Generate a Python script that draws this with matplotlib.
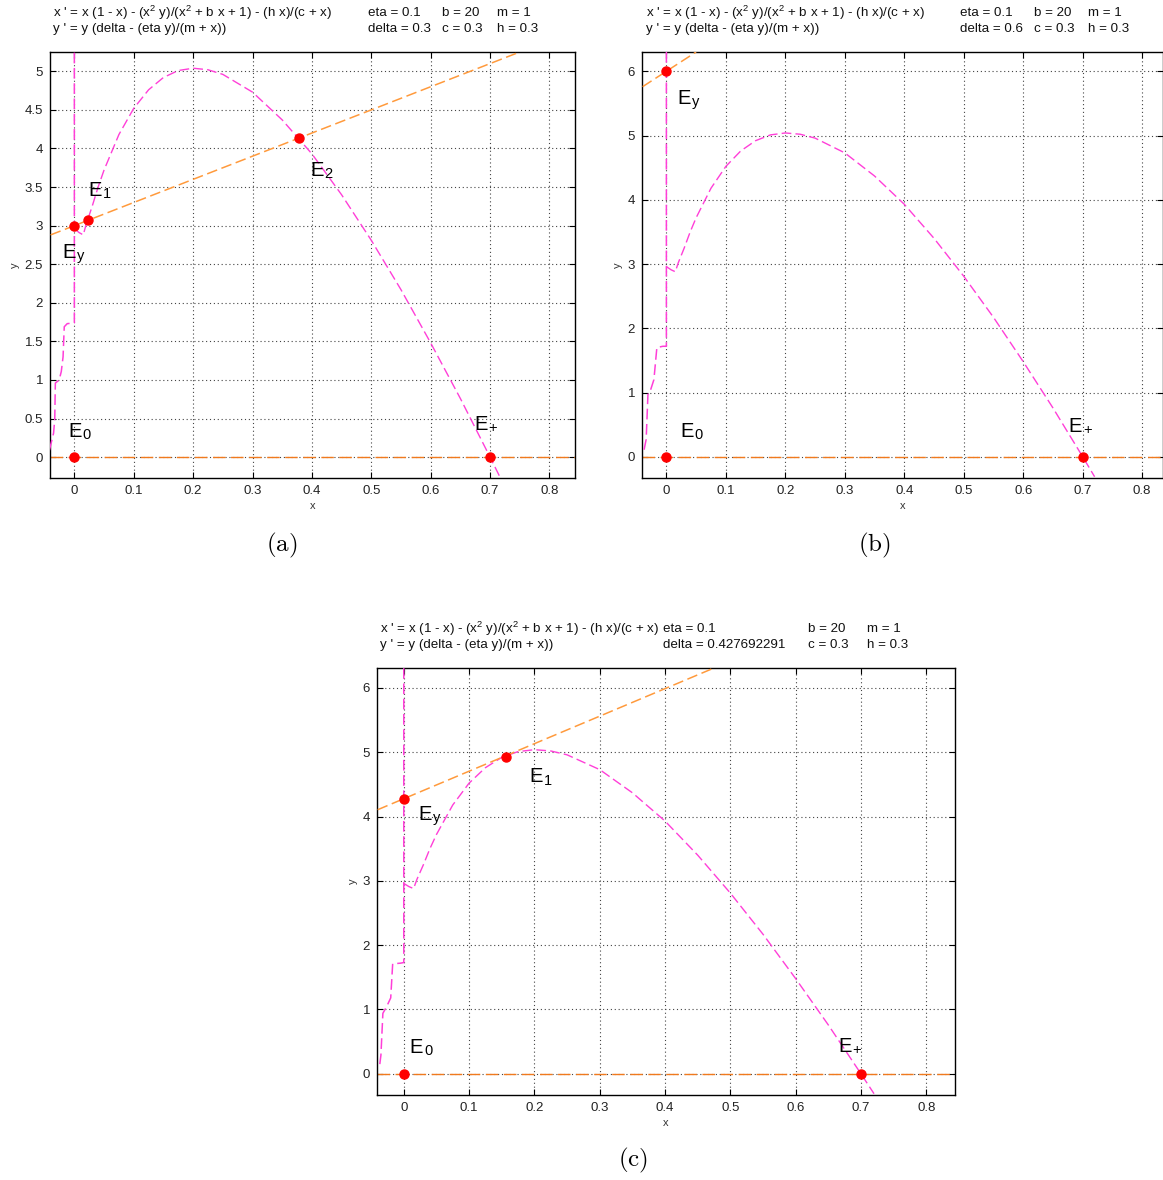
import matplotlib
matplotlib.use('Agg')
import matplotlib.pyplot as plt

plt.rcParams['font.family'] = ['Liberation Sans', 'DejaVu Sans']
plt.rcParams['mathtext.fontset'] = 'custom'
plt.rcParams['mathtext.rm'] = 'Liberation Sans'
plt.rcParams['mathtext.it'] = 'Liberation Sans'
plt.rcParams['mathtext.bf'] = 'Liberation Sans:bold'

# x-nullcline hump (same in all three panels)
hump_x = [0, 0.008, 0.015, 0.02, 0.03, 0.04, 0.05, 0.075, 0.1, 0.125, 0.15, 0.175,
          0.2, 0.225, 0.25, 0.3, 0.35, 0.4, 0.45, 0.5, 0.55, 0.6, 0.65, 0.7, 0.72]
hump_y = [2.96, 2.91, 2.88, 3.02, 3.25, 3.5, 3.72, 4.18, 4.52, 4.76, 4.92, 5.01,
          5.04, 5.02, 4.96, 4.73, 4.37, 3.93, 3.40, 2.81, 2.17, 1.48, 0.76, 0.0, -0.31]

# left piece + vertical branch at x = 0
left_x_a = [-0.042, -0.035, -0.033, -0.032, -0.0255, -0.022, -0.019, -0.017, -0.012, 0, 0]
left_y_a = [0.09, 0.31, 0.49, 0.96, 1.0, 1.11, 1.3, 1.69, 1.73, 1.74, 5.25]
left_x_b = [-0.0375, -0.034, -0.031, -0.028, -0.021, -0.016, -0.006, 0, 0]
left_y_b = [0.11, 0.27, 0.97, 1.0, 1.2, 1.7, 1.72, 1.72, 6.3]
left_x_c = [-0.0367, -0.035, -0.032, -0.026, -0.020, -0.017, -0.005, 0, 0]
left_y_c = [0.15, 0.29, 0.94, 1.05, 1.18, 1.71, 1.72, 1.73, 6.31]

# y-nullcline (straight line), end points
line_x_a = [-0.04, 0.75]
line_y_a = [2.88, 5.25]
line_x_b = [-0.04, 0.05]
line_y_b = [5.76, 6.3]
line_x_c = [-0.04, 0.475]
line_y_c = [4.106, 6.31]

# equilibria
eq_x_a = [0, 0.7, 0, 0.0225, 0.379]
eq_y_a = [0, 0, 3, 3.07, 4.13]
eq_x_b = [0, 0.7, 0]
eq_y_b = [0, 0, 6]
eq_x_c = [0, 0.7, 0, 0.157]
eq_y_c = [0, 0, 4.277, 4.93]

lab_a = [('0', -0.01, 0.26), ('+', 0.673, 0.35), ('y', -0.02, 2.58), ('1', 0.024, 3.39), ('2', 0.397, 3.64)]
lab_b = [('0', 0.023, 0.31), ('+', 0.676, 0.39), ('y', 0.018, 5.49)]
lab_c = [('0', 0.009, 0.33), ('+', 0.665, 0.34), ('y', 0.023, 3.95), ('1', 0.193, 4.53)]

deltas = ['0.3', '0.6', '0.427692291']

xticks = [0, 0.1, 0.2, 0.3, 0.4, 0.5, 0.6, 0.7, 0.8]
xtick_labels = ['0', '0.1', '0.2', '0.3', '0.4', '0.5', '0.6', '0.7', '0.8']
yticks_a = [0, 0.5, 1, 1.5, 2, 2.5, 3, 3.5, 4, 4.5, 5]
ytick_labels_a = ['0', '0.5', '1', '1.5', '2', '2.5', '3', '3.5', '4', '4.5', '5']
yticks_bc = [0, 1, 2, 3, 4, 5, 6]
ytick_labels_bc = ['0', '1', '2', '3', '4', '5', '6']

W, H = 1163, 1180
fig = plt.figure(figsize=(W / 100, H / 100), dpi=100)

MAG = '#ff3fd8'
ORA = '#ff9a3c'
ORA0 = '#f07a1e'


def px_axes(l, t, r, b):
    return fig.add_axes([l / W, 1 - b / H, (r - l) / W, (b - t) / H])


def draw_panel(ax, lx, ly, nx, ny, ex, ey, labs, xlim, ylim, yt, ytl):
    ax.plot(hump_x, hump_y, color=MAG, lw=1.0, dashes=(7, 3), zorder=3)
    ax.plot(lx, ly, color=MAG, lw=1.1, dashes=(7, 3), zorder=3)
    ax.plot(nx, ny, color=ORA, lw=1.1, dashes=(7, 3), zorder=3)
    ax.axhline(0, color=ORA0, lw=1.0, dashes=(9, 4), zorder=2)
    ax.plot(ex, ey, 'o', color='red', ms=6.5, zorder=5)
    for s, x, y in labs:
        ax.text(x, y, 'E', fontsize=14.5, ha='left', va='baseline')
        ax.annotate(s, xy=(x, y), xytext=(10.4, -1.5), textcoords='offset points',
                    fontsize=10.5, ha='left', va='baseline')
    ax.set_xlim(xlim)
    ax.set_ylim(ylim)
    ax.set_xticks(xticks)
    ax.set_xticklabels(xtick_labels)
    ax.set_yticks(yt)
    ax.set_yticklabels(ytl)
    ax.grid(True, color='#444444', lw=0.8, linestyle=(0, (1, 2.5)))
    ax.tick_params(direction='in', top=True, right=True, length=4, labelsize=9.5,
                   labelcolor='#222222', pad=5)
    ax.set_xlabel('x', fontsize=8, color='#333333', labelpad=3)
    ax.set_ylabel('y', fontsize=8, color='#333333', labelpad=3)
    for sp in ax.spines.values():
        sp.set_linewidth(1.0)


def header(x0, y0, xp, delta):
    fs = 9.6
    fig.text(x0 / W, 1 - y0 / H, "x ' = x (1 - x) - (x$^2$ y)/(x$^2$ + b x + 1) - (h x)/(c + x)",
             fontsize=fs, va='center', color='#111111')
    fig.text(x0 / W, 1 - (y0 + 16) / H, "y ' = y (delta - (eta y)/(m + x))",
             fontsize=fs, va='center', color='#111111')
    fig.text(xp[0] / W, 1 - y0 / H, 'eta = 0.1', fontsize=fs, va='center', color='#111111')
    fig.text(xp[1] / W, 1 - y0 / H, 'b = 20', fontsize=fs, va='center', color='#111111')
    fig.text(xp[2] / W, 1 - y0 / H, 'm = 1', fontsize=fs, va='center', color='#111111')
    fig.text(xp[0] / W, 1 - (y0 + 16) / H, 'delta = ' + delta, fontsize=fs, va='center', color='#111111')
    fig.text(xp[1] / W, 1 - (y0 + 16) / H, 'c = 0.3', fontsize=fs, va='center', color='#111111')
    fig.text(xp[2] / W, 1 - (y0 + 16) / H, 'h = 0.3', fontsize=fs, va='center', color='#111111')


# (a)
ax1 = px_axes(50, 52, 575, 478)
draw_panel(ax1, left_x_a, left_y_a, line_x_a, line_y_a, eq_x_a, eq_y_a, lab_a,
           (-0.041, 0.843), (-0.27, 5.25), yticks_a, ytick_labels_a)
header(53, 13, [368, 442, 497], deltas[0])
fig.text(282 / W, 1 - 545 / H, r'$\mathrm{(a)}$', math_fontfamily='cm', fontsize=18,
         ha='center', va='center')

# (b)
ax2 = px_axes(642, 52, 1163, 478)
draw_panel(ax2, left_x_b, left_y_b, line_x_b, line_y_b, eq_x_b, eq_y_b, lab_b,
           (-0.041, 0.835), (-0.33, 6.3), yticks_bc, ytick_labels_bc)
header(646, 13, [960, 1034, 1088], deltas[1])
fig.text(874 / W, 1 - 545 / H, r'$\mathrm{(b)}$', math_fontfamily='cm', fontsize=18,
         ha='center', va='center')

# (c)
ax3 = px_axes(377, 668, 955, 1095)
draw_panel(ax3, left_x_c, left_y_c, line_x_c, line_y_c, eq_x_c, eq_y_c, lab_c,
           (-0.041, 0.844), (-0.33, 6.31), yticks_bc, ytick_labels_bc)
header(380, 629, [663, 808, 867], deltas[2])
fig.text(633 / W, 1 - 1160 / H, r'$\mathrm{(c)}$', math_fontfamily='cm', fontsize=18,
         ha='center', va='center')

fig.savefig('out.png', dpi=100, facecolor='white')
